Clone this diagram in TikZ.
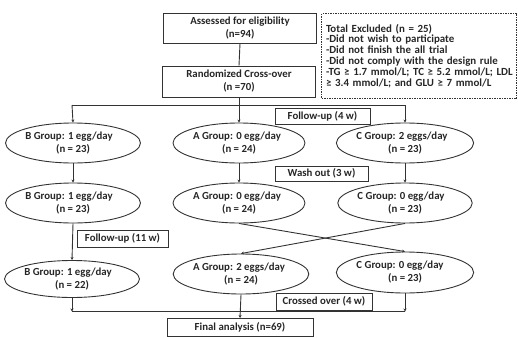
\documentclass[tikz,border=0pt]{standalone}
\usepackage{fontspec}
\setmainfont{Carlito}
\usetikzlibrary{shapes.geometric,arrows.meta}
\begin{document}
\begin{tikzpicture}[x=1pt,y=-1pt,
  every node/.style={font=\bfseries\fontsize{10.8}{13}\selectfont, text=black!85, inner sep=0pt},
  box/.style={draw=black!80, line width=0.9pt, rectangle, align=center},
  oval/.style={draw=black!80, line width=0.9pt, ellipse, align=center, minimum width=132pt, minimum height=40pt},
  conn/.style={draw=black!80, line width=0.9pt},
  arr/.style={conn, -{Stealth[length=3pt,width=3pt]}}]
\useasboundingbox (0,0) rectangle (518,337);
\node[box, minimum width=153pt, minimum height=30pt] (assess) at (240,28) {Assessed for eligibility\\(n=94)};
\node[box, minimum width=153pt, minimum height=31pt] (rand) at (239,81.5) {Randomized Cross-over\\(n =70)};
\node[box, dashed, dash pattern=on 1.5pt off 1pt, minimum width=195pt, minimum height=85pt, align=left, text width=186pt, font=\bfseries\fontsize{10.9}{10.9}\selectfont] (excl) at (419,56) {Total Excluded (n = 25)\\-Did not wish to participate\\-Did not finish the all trial\\-Did not comply with the design rule\\\mbox{-TG ≥ 1.7 mmol/L; TC ≥ 5.2 mmol/L; LDL}\\≥ 3.4 mmol/L; and GLU ≥ 7 mmol/L};
\node[oval] (B1) at (73,143) {B Group: 1 egg/day\hspace*{8pt}\\(n = 23)};
\node[oval] (A1) at (239,143) {A Group: 0 egg/day\hspace*{4pt}\\(n = 24)};
\node[oval] (C1) at (405,143) {C Group: 2 eggs/day\hspace*{6pt}\\(n = 23)};
\node[box, minimum width=95pt, minimum height=16pt] (fu4) at (322.5,116) {Follow-up (4 w)};
\node[oval] (B2) at (73,203) {B Group: 1 egg/day\hspace*{8pt}\\(n = 23)};
\node[oval] (A2) at (239,203) {A Group: 0 egg/day\hspace*{4pt}\\(n = 24)};
\node[oval] (C2) at (405,203) {C Group: 0 egg/day\hspace*{8pt}\\(n = 23)};
\node[box, minimum width=93pt, minimum height=15pt] (wash) at (321.5,173.5) {Wash out (3 w)};
\node[box, minimum width=91pt, minimum height=17pt] (fu11) at (122.5,238.5) {Follow-up (11 w)};
\node[oval, minimum height=37pt] (B3) at (72,279) {B Group: 1 egg/day\hspace*{8pt}\\(n = 22)};
\node[oval] (A3) at (241,274) {A Group: 2 eggs/day\hspace*{4pt}\\(n = 24)};
\node[oval, minimum height=41pt] (C3) at (405,272.5) {C Group: 0 egg/day\hspace*{10pt}\\(n = 23)};
\node[box, minimum width=96pt, minimum height=17pt] (cross) at (324,301.5) {Crossed over (4 w)};
\node[box, minimum width=146pt, minimum height=18pt] (final) at (240,327.5) {Final analysis (n=69)};
% connectors
\draw[conn] (assess.south) -- (rand.north);
\coordinate (hl) at (72,105);
\coordinate (hr) at (405,105);
\draw[conn] (hl) -- (hr);
\draw[arr] (rand.south) -- (A1.north);
\draw[arr] (hl) -- (B1.north);
\draw[arr] (hr) -- (C1.north);
\draw[arr] (B1.south) -- (B2.north);
\draw[arr] (A1.south) -- (A2.north);
\draw[arr] (C1.south) -- (C2.north);
\draw[arr] (B2.south) -- (B3.north);
\draw[arr] (A2.south) -- (C3.north);
\draw[arr] (C2.south) -- (A3.north);
\coordinate (bl) at (72,311.5);
\coordinate (br) at (405,311.5);
\draw[conn] (bl) -- (br);
\draw[arr] (B3.south) -- (bl);
\draw[arr] (C3.south) -- (br);
\draw[arr] (A3.south) -- (final.north);
\end{tikzpicture}
\end{document}
